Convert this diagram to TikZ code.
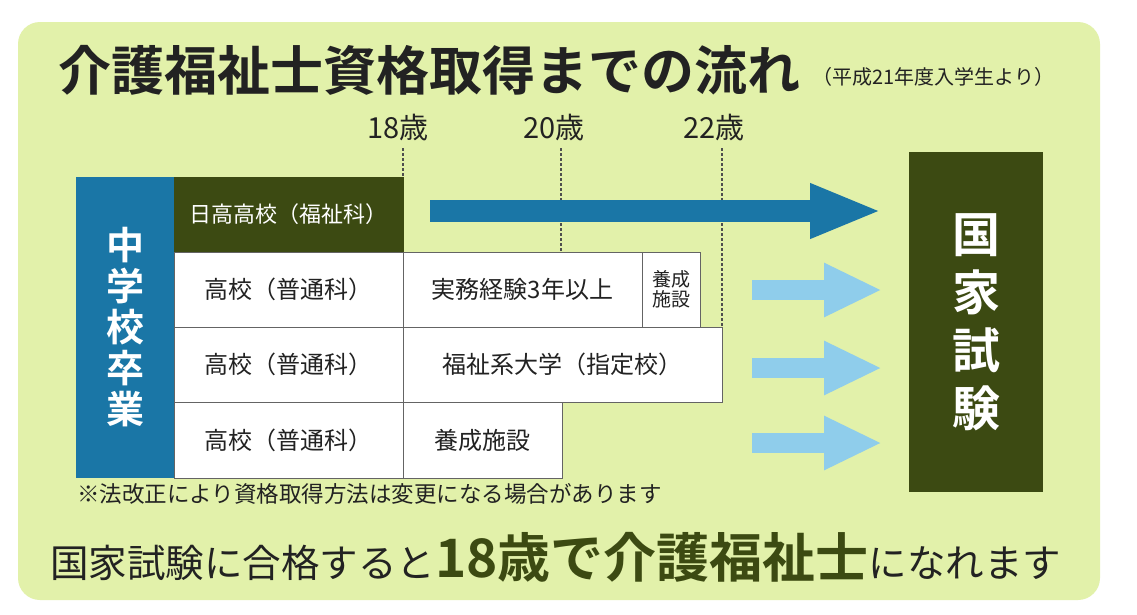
\documentclass[tikz,border=0pt]{standalone}
\usepackage{fontspec}
\newfontfamily\jp[BoldFont={Noto Sans CJK JP Bold}]{Noto Sans CJK JP}
\usetikzlibrary{arrows.meta}
\definecolor{bg}{HTML}{E2F1AA}
\definecolor{blu}{HTML}{1A76A6}
\definecolor{olive}{HTML}{3C4A12}
\definecolor{lblu}{HTML}{8FCDEB}
\definecolor{txt}{HTML}{222222}
\tikzset{
 cell/.style={draw=txt!70,line width=0.8pt,fill=white,font=\jp\fontsize{24}{24}\selectfont,text=txt},
 age/.style={font=\jp\fontsize{29}{29}\selectfont,text=txt},
 dot/.style={dash pattern=on 2.5pt off 2.5pt,line width=2.5pt,draw=txt!80},
}
\begin{document}
\begin{tikzpicture}[x=1pt,y=-1pt]
\useasboundingbox (0,0) rectangle (1137,614);
\fill[white] (0,0) rectangle (1137,614);
\fill[bg,rounded corners=22pt] (18,22) rectangle (1100,600);
\node[anchor=west,font=\jp\bfseries\fontsize{53}{53}\selectfont,text=txt,inner sep=0] (title) at (58,70) {介護福祉士資格取得までの流れ};
\node[anchor=west,font=\jp\fontsize{20}{20}\selectfont,text=txt,inner sep=0] (sub) at (812,77) {（平成21年度入学生より）};
\node[age] (a18) at (398,128) {18歳};
\node[age] (a20) at (554,128) {20歳};
\node[age] (a22) at (714,128) {22歳};
\draw[dot] (403,148) -- (403,177);
\draw[dot] (561,148) -- (561,252);
\draw[dot] (722,148) -- (722,327);
\node[fill=blu,minimum width=98pt,minimum height=301pt,inner sep=0,text=white,font=\jp\bfseries\fontsize{38}{41}\selectfont,align=center] (chu) at (125,327.5) {中\\学\\校\\卒\\業};
\node[fill=olive,draw=olive,minimum width=229pt,minimum height=75pt,inner sep=0,text=white,font=\jp\fontsize{22}{22}\selectfont] (hid) at (288.5,214.5) {日高高校（福祉科）};
\node[cell,minimum width=229pt,minimum height=75pt,inner sep=0] (h1) at (288.5,289.5) {高校（普通科）};
\node[cell,minimum width=239pt,minimum height=75pt,inner sep=0] (j1) at (522.5,289.5) {実務経験3年以上};
\node[cell,minimum width=58pt,minimum height=75pt,inner sep=0,align=center,font=\jp\fontsize{19}{20}\selectfont] (y1) at (671,289.5) {養成\\施設};
\node[cell,minimum width=229pt,minimum height=75pt,inner sep=0] (h2) at (288.5,364.5) {高校（普通科）};
\node[cell,minimum width=319pt,minimum height=75pt,inner sep=0] (d2) at (562.5,364.5) {福祉系大学（指定校）};
\node[cell,minimum width=229pt,minimum height=76pt,inner sep=0] (h3) at (288.5,440) {高校（普通科）};
\node[cell,minimum width=159pt,minimum height=76pt,inner sep=0] (y3) at (482.5,440) {養成施設};
\node[anchor=west,font=\jp\fontsize{22.5}{22}\selectfont,text=txt,inner sep=0] (note) at (77,494) {※法改正により資格取得方法は変更になる場合があります};
\node[fill=olive,minimum width=134pt,minimum height=340pt,inner sep=0,text=white,font=\jp\bfseries\fontsize{48}{58}\selectfont,align=center] (kok) at (976,322) {国\\家\\試\\験};
\coordinate (s0) at (430,211);
\draw[blu,line width=22pt,-{Triangle[length=72pt,width=50pt]}] (s0) -- (882,211);
\foreach \yy/\n in {290/b1,368/b2,443/b3}{
 \coordinate (\n) at (752,\yy);
 \draw[lblu,line width=20pt,-{Triangle[length=58pt,width=50pt]}] (\n) -- (882,\yy);
}
\node[anchor=west,text=txt,inner sep=0] (bot) at (50,557) {\jp\fontsize{38.5}{38}\selectfont 国家試験に合格すると\textcolor{olive}{\bfseries\fontsize{53}{53}\selectfont 18歳で介護福祉士}になれます};
\end{tikzpicture}
\end{document}
